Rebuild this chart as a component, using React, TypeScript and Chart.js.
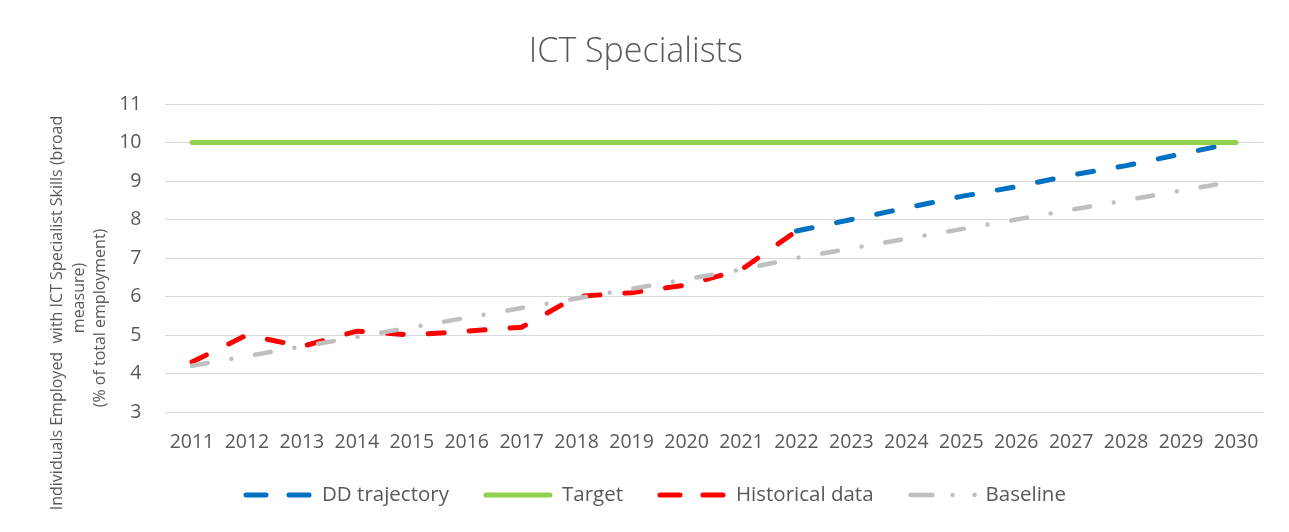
import React, { useEffect, useRef } from 'react';
import { Chart, registerables } from 'chart.js';

Chart.register(...registerables);

const years = ['2011', '2012', '2013', '2014', '2015', '2016', '2017', '2018', '2019', '2020', '2021', '2022', '2023', '2024', '2025', '2026', '2027', '2028', '2029', '2030'];
const ddTrajectory = [null, null, null, null, null, null, null, null, null, null, null, 7.7, 8.0, 8.3, 8.6, 8.85, 9.15, 9.4, 9.7, 10.0];
const target = [10, 10, 10, 10, 10, 10, 10, 10, 10, 10, 10, 10, 10, 10, 10, 10, 10, 10, 10, 10];
const historical = [4.3, 5.0, 4.7, 5.1, 5.0, 5.1, 5.2, 6.0, 6.1, 6.3, 6.7, 7.7, null, null, null, null, null, null, null, null];
const baseline = [4.2, 4.45, 4.7, 4.95, 5.2, 5.45, 5.7, 5.95, 6.2, 6.45, 6.7, 7.0, 7.25, 7.5, 7.75, 8.0, 8.25, 8.5, 8.75, 9.0];
const seriesLabels = ['DD trajectory', 'Target', 'Historical data', 'Baseline'];
const yMin = 3;
const yMax = 11;
const chartTitle = 'ICT Specialists';
const yTitleLines = [
  'Individuals Employed  with ICT Specialist Skills (broad',
  'measure)',
  '(% of total employment)',
];

const FONT = '"Open Sans", sans-serif';
const TEXT = '#595959';

const yTitlePlugin = {
  id: 'yTitle',
  afterDraw(chart: any) {
    const ctx = chart.ctx;
    const pos = [
      { x: 49, y: 305 },
      { x: 71, y: 290 },
      { x: 92, y: 310 },
    ];
    ctx.save();
    ctx.font = `16px ${FONT}`;
    ctx.fillStyle = TEXT;
    ctx.textAlign = 'center';
    ctx.textBaseline = 'middle';
    yTitleLines.forEach((t, i) => {
      ctx.save();
      ctx.translate(pos[i].x, pos[i].y);
      ctx.rotate(-Math.PI / 2);
      ctx.fillText(t, 0, 0);
      ctx.restore();
    });
    ctx.restore();
  },
};

const legendPlugin = {
  id: 'customLegend',
  afterDraw(chart: any) {
    const ctx = chart.ctx;
    const sampleW = 64;
    const gap = 12;
    const spacing = 37;
    let x = 238;
    const y = 487;
    ctx.save();
    ctx.font = `20.5px ${FONT}`;
    chart.data.datasets.forEach((ds: any) => {
      const w = ds.legendWidth || sampleW;
      ctx.beginPath();
      ctx.setLineDash(ds.legendDash || []);
      ctx.lineCap = 'round';
      ctx.lineWidth = ds.borderWidth;
      ctx.strokeStyle = ds.borderColor;
      ctx.moveTo(x, y);
      ctx.lineTo(x + w, y);
      ctx.stroke();
      ctx.setLineDash([]);
      ctx.fillStyle = TEXT;
      ctx.textAlign = 'left';
      ctx.textBaseline = 'middle';
      const tx = x + w + (ds.legendGap ?? gap);
      ctx.fillText(ds.label, tx, y);
      x = tx + ctx.measureText(ds.label).width + spacing;
    });
    ctx.restore();
  },
};

export default function App() {
  const ref = useRef<HTMLCanvasElement | null>(null);
  useEffect(() => {
    if (!ref.current) return;
    const chart = new Chart(ref.current, {
      type: 'line',
      data: {
        labels: years,
        datasets: [
          {
            label: seriesLabels[0],
            data: ddTrajectory,
            borderColor: '#0070C0',
            borderWidth: 5,
            borderDash: [16, 25],
            borderCapStyle: 'round',
            pointRadius: 0,
            order: 4,
            legendDash: [20, 23],
          } as any,
          {
            label: seriesLabels[1],
            data: target,
            borderColor: '#92D050',
            borderWidth: 5,
            borderCapStyle: 'round',
            pointRadius: 0,
            order: 3,
            legendDash: [],
          } as any,
          {
            label: seriesLabels[2],
            data: historical,
            borderColor: '#FF0000',
            borderWidth: 5,
            borderDash: [16, 25],
            borderCapStyle: 'round',
            pointRadius: 0,
            order: 2,
            legendDash: [20, 23],
          } as any,
          {
            label: seriesLabels[3],
            data: baseline,
            borderColor: '#BFBFBF',
            borderWidth: 4.5,
            borderDash: [16, 24, 0.01, 24],
            borderCapStyle: 'round',
            pointRadius: 0,
            order: 1,
            legendDash: [22, 20, 0.01, 22, 0.01, 100],
            legendWidth: 66,
            legendGap: 9,
          } as any,
        ],
      },
      options: {
        responsive: false,
        animation: false,
        layout: { padding: { left: 0, right: 17.5, top: 0, bottom: 0 } },
        plugins: {
          legend: { display: false },
          tooltip: { enabled: false },
          title: {
            display: true,
            text: chartTitle,
            color: TEXT,
            font: { family: FONT, size: 34, weight: 300 as any, lineHeight: 1.2 },
            padding: { top: 24, bottom: 31.2 },
          },
        },
        scales: {
          x: {
            type: 'category',
            offset: true,
            grid: { display: false, drawTicks: false },
            border: { display: false },
            ticks: { color: TEXT, font: { family: FONT, size: 19.5 }, padding: 19, maxRotation: 0, autoSkip: false },
            afterFit: (s: any) => { s.height = 112; },
          },
          y: {
            min: yMin,
            max: yMax,
            grid: { color: '#D9D9D9', lineWidth: 1, drawTicks: false },
            border: { display: false },
            ticks: { stepSize: 1, color: TEXT, font: { family: FONT, size: 19.5 }, padding: 23 },
            afterFit: (s: any) => { s.width = 156.5; },
          },
        },
      },
      plugins: [yTitlePlugin, legendPlugin],
    });
    return () => chart.destroy();
  }, []);
  return (
    <div style={{ marginLeft: -2, marginTop: -2, borderTop: '2px solid #D9D9D9', borderLeft: '2px solid #D9D9D9', width: 1273, height: 516 }}>
      <canvas ref={ref} width={1273} height={516} style={{ display: 'block' }} />
    </div>
  );
}
